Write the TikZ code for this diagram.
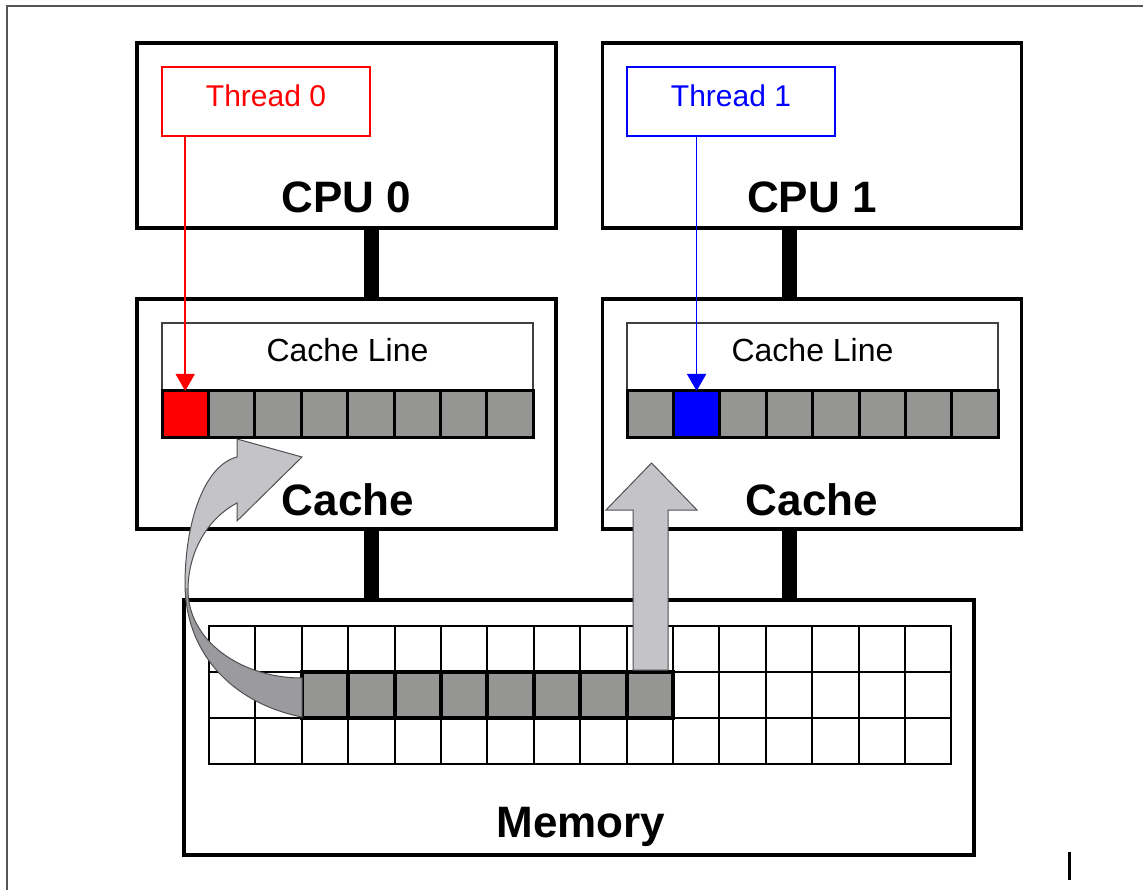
\documentclass[tikz,border=0pt]{standalone}
\usepackage{fontspec}
\setmainfont{Liberation Sans}
\usetikzlibrary{arrows.meta}
\usetikzlibrary{calc}
\tikzset{>=latex}
\usepackage{xcolor}
\definecolor{cellgray}{RGB}{149,150,147}
\definecolor{arrowlight}{RGB}{196,195,200}
\definecolor{arrowdark}{RGB}{155,154,159}
\definecolor{arrowedge}{RGB}{80,80,80}
\definecolor{framegray}{RGB}{85,85,85}
\tikzstyle{outerframe}=[draw=framegray,line width=2.5pt]
\tikzstyle{cpubox}=[draw,line width=3.5pt,fill=white,minimum width=419pt,minimum height=185pt,inner sep=0,outer sep=0]
\tikzstyle{cachebox}=[cpubox,minimum height=230pt]
\tikzstyle{membox}=[cpubox,minimum width=790pt,minimum height=255pt]
\tikzstyle{threadbox}=[draw,line width=1.5pt,minimum width=208pt,minimum height=69pt,inner sep=0,outer sep=0]
\tikzstyle{linebox}=[draw=black!75,line width=1.5pt,minimum width=371pt,minimum height=114pt,inner sep=0,outer sep=0]
\tikzstyle{cell}=[draw,line width=3pt,fill=cellgray,minimum width=46.4pt,minimum height=46pt,inner sep=0,outer sep=0]
\tikzstyle{memcell}=[draw,line width=2pt,minimum width=46.4pt,minimum height=46pt,inner sep=0,outer sep=0]
\tikzstyle{hotcell}=[memcell,fill=cellgray,line width=4pt]
\tikzstyle{bus}=[line width=15pt]
\tikzstyle{biglabel}=[font=\fontsize{44}{48}\selectfont\bfseries,anchor=base,inner sep=0]
\tikzstyle{linelabel}=[font=\fontsize{32}{36}\selectfont,anchor=base,inner sep=0]
\tikzstyle{threadlabel}=[font=\fontsize{30}{34}\selectfont,anchor=base,inner sep=0]
\tikzstyle{pointer}=[line width=1.5pt,-{Triangle[width=19pt,length=17pt]}]
\tikzstyle{blockarrow}=[draw=arrowedge,line width=1pt,line join=miter]

\begin{document}
\begin{tikzpicture}[x=1pt,y=-1pt]
    \useasboundingbox (0,0) rectangle (1143,890);
    \draw[outerframe] (7,890) -- (7,6) -- (1143,6);

    % CPUs and caches
    \node[cpubox] (cpu0) at (346.5,135.5) {};
    \node[cpubox] (cpu1) at (812,135.5) {};
    \node[cachebox] (cache0) at (346.5,414) {};
    \node[cachebox] (cache1) at (812,414) {};
    \node[membox] (mem) at (579,727.5) {};

    \draw[bus] ([xshift=24.5pt]cpu0.south) -- ([xshift=24.5pt]cache0.north);
    \draw[bus] ([xshift=24.5pt]cache0.south) coordinate (k0) -- (k0 |- mem.north);
    \draw[bus] ([xshift=-22.5pt]cpu1.south) -- ([xshift=-22.5pt]cache1.north);
    \draw[bus] ([xshift=-22.5pt]cache1.south) coordinate (k1) -- (k1 |- mem.north);

    \node[biglabel] (cpu0txt) at (346.5,213) {CPU 0};
    \node[biglabel] (cpu1txt) at (812,213) {CPU 1};
    \node[biglabel] (cache0txt) at (348,515) {Cache};
    \node[biglabel] (cache1txt) at (812,515) {Cache};
    \node[biglabel] (memtxt) at (581,837) {Memory};

    % threads
    \node[threadbox,draw=red] (thr0) at (266,101.5) {};
    \node[threadbox,draw=blue] (thr1) at (731,101.5) {};
    \node[threadlabel,text=red] (thr0txt) at (266,107) {Thread 0};
    \node[threadlabel,text=blue] (thr1txt) at (731,107) {Thread 1};

    % cache lines
    \node[linebox] (line0) at (347.5,380) {};
    \node[linebox] (line1) at (812.5,380) {};
    \node[linelabel] (line0txt) at (347.5,362) {Cache Line};
    \node[linelabel] (line1txt) at (812.5,362) {Cache Line};

    \node[cell,fill=red] (a0) at (185.2,414) {};
    \foreach \i in {1,...,7}
        \node[cell] (a\i) at ({185.2+46.4*\i},414) {};
    \node[cell,fill=blue] (b1) at (696.6,414) {};
    \foreach \i in {0,2,3,4,5,6,7}
        \node[cell] (b\i) at ({650.2+46.4*\i},414) {};

    % memory grid
    \foreach \r in {0,1,2}
        \foreach \c in {0,...,15}
            \node[memcell] (m\r-\c) at ({232.2+46.4*\c},{649+46*\r}) {};
    \foreach \c in {2,...,9}
        \node[hotcell] (h\c) at ({232.2+46.4*\c},695) {};

    % block arrows
    \begin{scope}
        \clip (302,717) .. controls (240,705) and (186,660) .. (185,585)
            .. controls (185,520) and (205,465) .. (237,457)
            -- (237,439) -- (302,457) -- (237,521) -- (237,503)
            .. controls (205,520) and (188,555) .. (188,590)
            .. controls (188,640) and (240,678) .. (302,678) -- cycle;
        \fill[arrowlight] (150,420) rectangle (320,588);
        \fill[arrowdark] (150,588) rectangle (320,730);
    \end{scope}
    \draw[blockarrow] (302,717) .. controls (240,705) and (186,660) .. (185,585)
        .. controls (185,520) and (205,465) .. (237,457)
        -- (237,439) -- (302,457) -- (237,521) -- (237,503)
        .. controls (205,520) and (188,555) .. (188,590)
        .. controls (188,640) and (240,678) .. (302,678) -- cycle;
    \draw[blockarrow,fill=arrowlight] (633,670) -- (633,510) -- (606,510) -- (651.5,463)
        -- (697,510) -- (668,510) -- (668,670) -- cycle;

    % thread pointers
    \draw[pointer,red] (thr0.south -| a0) -- (a0.north);
    \draw[pointer,blue] (thr1.south -| b1) -- (b1.north);

    \draw[line width=3pt] (1069,852) -- (1069,880);
\end{tikzpicture}
\end{document}
